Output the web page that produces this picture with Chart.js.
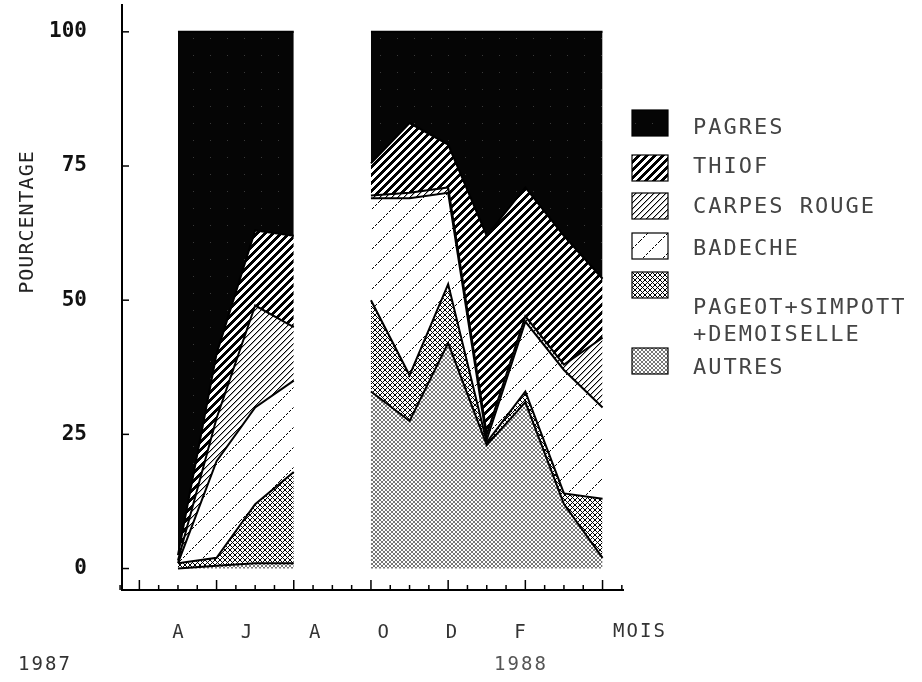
<!DOCTYPE html>
<html><head><meta charset="utf-8">
<script src="https://cdn.jsdelivr.net/npm/chart.js@4.4.1/dist/chart.umd.min.js"></script>
<style>html,body{margin:0;padding:0;background:#fff;}#wrap{width:922px;height:682px;}</style>
</head><body><div id="wrap"><canvas id="c" width="922" height="682"></canvas></div>
<script>
// Months from April 1987 (index 0) to March 1988 (index 11); August (4) not sampled
const MONTH_INDEX = [0, 1, 2, 3, 4, 5, 6, 7, 8, 9, 10, 11];
const X_LABELS = ['A', 'J', 'A', 'O', 'D', 'F'];
const Y_TICKS = [0, 25, 50, 75, 100];
const NAMES = ['AUTRES', 'PAGEOT+SIMPOTT|+DEMOISELLE', 'BADECHE', 'CARPES ROUGE', 'THIOF', 'PAGRES'];
// percentages per month (stacked bottom to top)
const AUTRES  = [0,   0.5, 1,  1,  null, 33,   27.5, 42, 23,  31, 12, 2];
const PAGEOT  = [1,   1.5, 11, 17, null, 17,   8.5,  11, 0.5, 2,  2,  11];
const BADECHE = [0,   18,  18, 17, null, 19,   33,   17, 0.5, 13, 23, 17];
const CARPES  = [0.5, 8,   19, 10, null, 0.5,  1,    1,  1,   1,  1,  13];
const THIOF   = [1,   12,  14, 17, null, 6,    13,   8,  37,  24, 24, 11];
const PAGRES  = [97.5,60,  37, 38, null, 24.5, 17,   21, 38,  29, 38, 46];
const SERIES = [AUTRES, PAGEOT, BADECHE, CARPES, THIOF, PAGRES];

function tile(size, fn, bg) {
  const c = document.createElement('canvas'); c.width = c.height = size;
  const g = c.getContext('2d');
  g.fillStyle = bg || '#fff'; g.fillRect(0, 0, size, size);
  for (let x = 0; x < size; x++) for (let y = 0; y < size; y++) {
    const col = fn(x, y, size); if (col) { g.fillStyle = col; g.fillRect(x, y, 1, 1); }
  }
  return g.createPattern(c, 'repeat');
}
const PATTERNS = [
  tile(4, (x, y, s) => (x === y || x + y === s - 1) ? '#777' : null),                                      // AUTRES
  tile(5, (x, y, s) => (x === y || x + y === s - 1) ? '#000' : null),                                      // PAGEOT
  tile(20, (x, y, s) => ((x + y) % s === 0 && x % 3 !== 2) ? '#000' : null),                               // BADECHE
  tile(6, (x, y, s) => { const d = (x + y) % s; return d === 0 ? '#000' : (d === 1 ? '#aaa' : null); }),   // CARPES
  tile(8, (x, y, s) => ((x + y) % s) < 4 ? '#000' : null),                                                 // THIOF
  tile(17, (x, y) => (x === 6 && y === 4) ? '#3a3a3a' : null, '#050505')                                   // PAGRES
];

const MONO = "'DejaVu Sans Mono', 'Liberation Mono', monospace";

const decor = {
  id: 'decor',
  afterDraw(chart) {
    const { ctx, scales: { x, y } } = chart;
    ctx.save();
    ctx.strokeStyle = '#000'; ctx.lineWidth = 1.5;
    Y_TICKS.forEach(v => {
      const py = y.getPixelForValue(v);
      ctx.beginPath(); ctx.moveTo(x.left, py); ctx.lineTo(x.left + 7, py); ctx.stroke();
    });
    for (let k = -3; k <= 23; k++) {
      const v = k / 2; const px = x.getPixelForValue(v);
      const tall = (k % 2 === 0) && (Math.abs(v) % 2 === 1);
      ctx.beginPath(); ctx.moveTo(px, x.top); ctx.lineTo(px, x.top - (tall ? 10 : 5)); ctx.stroke();
    }
    ctx.fillStyle = '#333';
    ctx.textAlign = 'center'; ctx.textBaseline = 'middle';
    ctx.font = '19px ' + MONO;
    ctx.letterSpacing = '2px';
    ctx.fillText('MOIS', 640, 632);
    ctx.fillText('1987', 45, 665);
    ctx.fillStyle = '#555';
    ctx.fillText('1988', 521, 665);
    ctx.save();
    ctx.fillStyle = '#222';
    ctx.translate(28, 222); ctx.rotate(-Math.PI / 2);
    ctx.font = '20px ' + MONO; ctx.letterSpacing = '1px';
    ctx.fillText('POURCENTAGE', 0, 0);
    ctx.restore();
    // legend
    const boxY = [110, 155, 193, 233, 272, 348];
    const textY = [[128], [167], [207], [249], [308, 335], [368]];
    const order = [5, 4, 3, 2, 1, 0];
    ctx.textAlign = 'left';
    ctx.font = '22px ' + MONO; ctx.letterSpacing = '2px';
    order.forEach((di, r) => {
      const ds = chart.data.datasets[di];
      ctx.fillStyle = ds.backgroundColor;
      ctx.fillRect(632, boxY[r], 36, 26);
      ctx.lineWidth = 1.2; ctx.strokeStyle = '#000';
      ctx.strokeRect(632, boxY[r], 36, 26);
      ctx.fillStyle = '#444';
      ds.label.split('|').forEach((t, j) => ctx.fillText(t, 693, textY[r][j]));
    });
    ctx.restore();
  }
};

new Chart(document.getElementById('c'), {
  type: 'line',
  data: {
    datasets: SERIES.map((vals, i) => ({
      label: NAMES[i],
      data: MONTH_INDEX.map((m, j) => ({ x: m, y: vals[j] })),
      backgroundColor: PATTERNS[i],
      borderColor: '#000', borderWidth: 2,
      fill: i === 0 ? 'origin' : '-1',
      pointRadius: 0, tension: 0, spanGaps: false
    }))
  },
  options: {
    responsive: false, animation: false, devicePixelRatio: 1,
    layout: { padding: { left: 0, right: 299, top: 5, bottom: 0 } },
    plugins: { legend: { display: false }, tooltip: { enabled: false } },
    scales: {
      x: {
        type: 'linear', min: -1.45, max: 11.53, position: 'bottom',
        ticks: { display: false }, grid: { display: false, drawTicks: false },
        border: { display: true, color: '#000', width: 2 },
        afterFit(s) { s.height = 0; s.paddingLeft = 0; s.paddingRight = 0; }
      },
      xl: {
        type: 'linear', min: -0.8187, max: 6.506, position: 'bottom',
        afterBuildTicks(s) { s.ticks = X_LABELS.map((l, i) => ({ value: i })); },
        ticks: { autoSkip: false, maxRotation: 0, padding: 32, color: '#333',
          font: { family: MONO, size: 19 }, callback: (v, i) => X_LABELS[i] },
        grid: { display: false, drawTicks: false }, border: { display: false },
        afterFit(s) { s.height = 92; s.paddingLeft = 0; s.paddingRight = 0; }
      },
      y: {
        type: 'linear', stacked: true, min: -4, max: 105,
        afterBuildTicks(s) { s.ticks = Y_TICKS.map(v => ({ value: v })); },
        ticks: { padding: 35, color: '#111', font: { family: MONO, size: 21, weight: 'bold' } },
        grid: { display: false, drawTicks: false },
        border: { display: true, color: '#000', width: 2 },
        afterFit(s) { s.width = 122; s.paddingTop = 0; s.paddingBottom = 0; }
      }
    }
  },
  plugins: [decor]
});
</script></body></html>
